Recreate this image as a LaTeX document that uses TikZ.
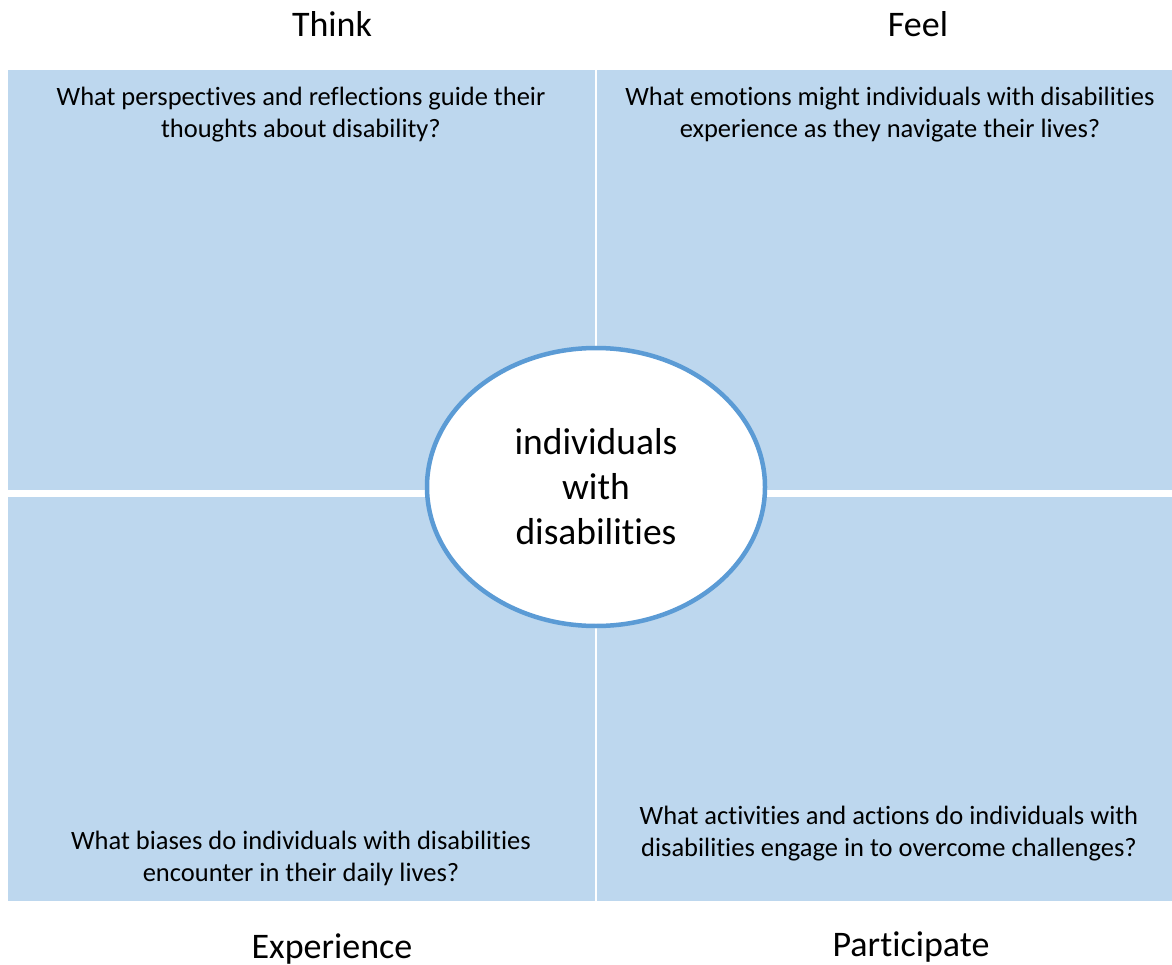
\documentclass[tikz,border=0pt]{standalone}
\usepackage{fontspec}
\setmainfont{Carlito}[RawFeature=-liga]
\usetikzlibrary{shapes.geometric}
\definecolor{panel}{HTML}{BDD7EE}
\definecolor{ring}{HTML}{5B9BD5}
\begin{document}
\begin{tikzpicture}[x=1pt,y=-1pt,
  heading/.style={font=\fontsize{36}{43}\selectfont,inner sep=0pt,anchor=base},
  question/.style={font=\fontsize{26.5}{32}\selectfont,align=center,inner sep=0pt},
  hub/.style={ellipse,draw=ring,line width=4.5pt,fill=white,minimum width=338pt,minimum height=278pt,inner sep=0pt,align=center,font=\fontsize{37.5}{45}\selectfont}]
\useasboundingbox (0,0) rectangle (1172,965);
\fill[panel] (8,70) rectangle (595,489.5);
\fill[panel] (597,70) rectangle (1172,489.5);
\fill[panel] (8,497) rectangle (595,900.5);
\fill[panel] (597,497) rectangle (1172,900.5);
\node[hub] (c) at (596,487) {individuals\\with\\disabilities};
\node[heading] (think) at (332,37) {Think};
\node[heading] (feel) at (918,37) {Feel};
\node[heading] (exp) at (332,958) {Experience};
\node[heading] (part) at (911,956) {Participate};
\node[question] (q1) at (301,114.5) {What perspectives and reflections guide their\\thoughts about disability?};
\node[question] (q2) at (890,114.5) {What emotions might individuals with disabilities\\experience as they navigate their lives?};
\node[question] (q3) at (301,858) {What biases do individuals with disabilities\\encounter in their daily lives?};
\node[question] (q4) at (889,834) {What activities and actions do individuals with\\disabilities engage in to overcome challenges?};
\end{tikzpicture}
\end{document}
